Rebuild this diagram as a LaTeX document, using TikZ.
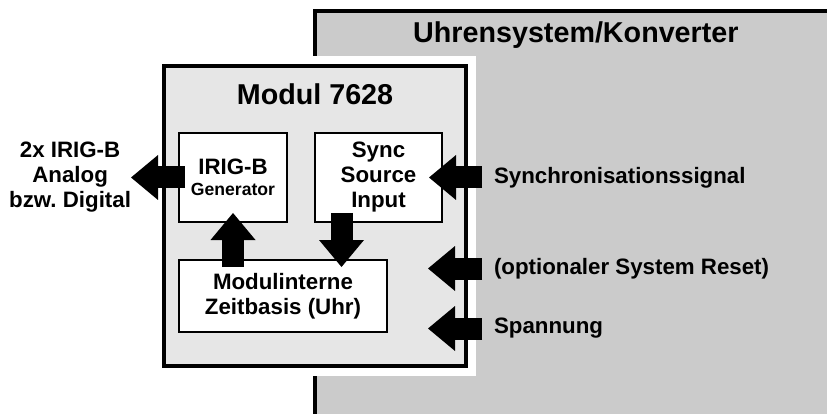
\documentclass[tikz,border=0pt]{standalone}
\usepackage{fontspec}
\setmainfont{Liberation Sans}
\usetikzlibrary{arrows.meta}
\usetikzlibrary{positioning}
\usetikzlibrary{calc}
\definecolor{sysgray}{HTML}{CBCBCB}
\definecolor{modgray}{HTML}{E6E6E6}

\tikzset{
  lbl/.style={font=\bfseries\fontsize{22.3}{25}\selectfont, inner sep=0pt, outer sep=0pt, align=center},
  titel/.style={font=\bfseries\fontsize{28.7}{32}\selectfont, inner sep=0pt},
  box/.style={lbl, draw, line width=2pt, fill=white, anchor=north west},
  bigarrow/.style={line width=22pt, -{Triangle[length=27pt, width=45pt, line width=0pt]}},
}

\begin{document}
\begin{tikzpicture}[x=1pt, y=-1pt]
        \useasboundingbox (0,0) rectangle (827,414);

        % Uhrensystem
        \fill[sysgray] (315,11) rectangle (827,414);
        \draw[line width=4pt] (827,11) -- (315,11) -- (315,414);
        \node[titel, anchor=west] (system) at (413,35) {Uhrensystem/Konverter};

        % Modul
        \fill[white] (154,56) rectangle (476,376);
        \node[draw, line width=4pt, fill=modgray, inner sep=0pt, outer sep=0pt, minimum width=302pt, minimum height=300pt, anchor=north west] (modul) at (164,66) {};
        \node[titel] (modtitel) at ($(modul.north)+(0,28)$) {Modul 7628};

        \node[box, minimum width=108pt, minimum height=89pt] (gen) at (179,133) {IRIG-B\\[-4pt]{\fontsize{17.6}{20}\selectfont Generator}};
        \node[box, minimum width=127pt, minimum height=89pt] (sync) at (315,133) {Sync\\Source\\Input};
        \node[box, minimum width=208pt, minimum height=72pt] (zeit) at (179,260) {Modulinterne\\Zeitbasis (Uhr)};

        \node[lbl, left=48pt of gen] (ausgang) {2x IRIG-B\\Analog\\bzw.\ Digital};
        \node[lbl, right=52pt of sync] (syncsig) {Synchronisationssignal};
        \node[lbl, anchor=west] (reset) at ($(syncsig.west)+(0,91)$) {(optionaler System Reset)};
        \node[lbl, anchor=west] (spannung) at ($(syncsig.west)+(0,151)$) {Spannung};

        \draw[bigarrow] ($(gen.west)+(6,0)$) -- (ausgang.east);
        \draw[bigarrow] ($(gen.south |- zeit.north)+(0,7)$) -- ($(gen.south)+(0,-9)$);
        \draw[bigarrow] ($(sync.south)+(-37,-9)$) -- ($(sync.south |- zeit.north)+(-37,7)$);
        \draw[bigarrow] ($(syncsig.west)+(-12,0)$) -- ($(sync.east)+(-13,0)$);
        \draw[bigarrow] ($(reset.west)+(-12,0)$) -- ($(reset.west)+(-66,0)$);
        \draw[bigarrow] ($(spannung.west)+(-12,0)$) -- ($(spannung.west)+(-66,0)$);
\end{tikzpicture}
\end{document}
